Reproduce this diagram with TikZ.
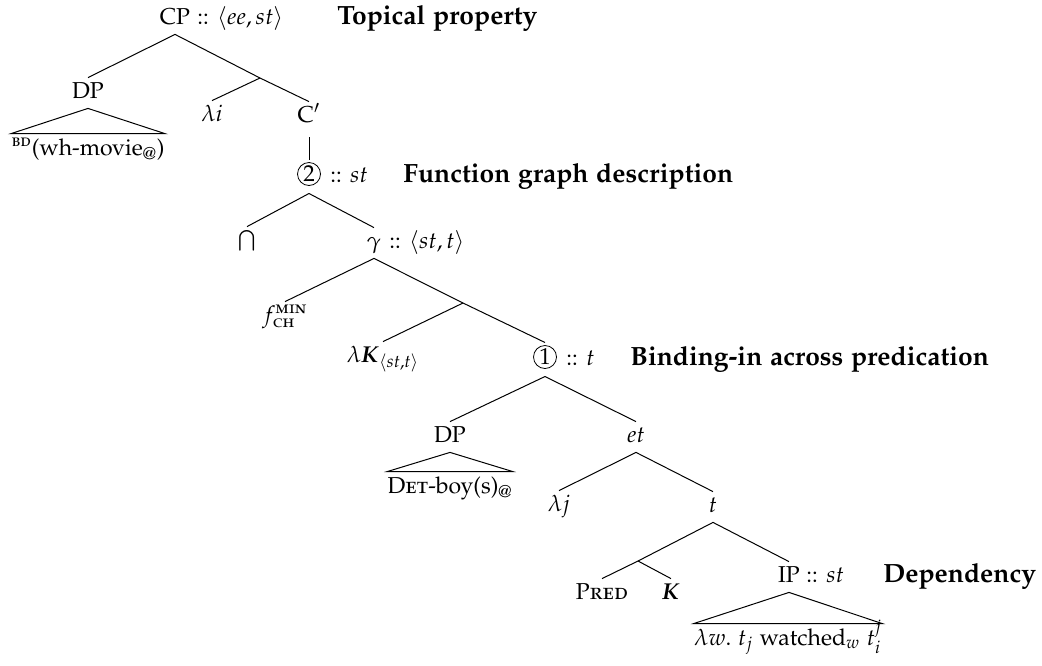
\documentclass[tikz,border=0pt]{standalone}
\usepackage[T1]{fontenc}
\usepackage[sc]{mathpazo}
\usepackage{amsmath}
\begin{document}
\begin{tikzpicture}[x=0.5pt,y=-0.5pt,
  every node/.style={font=\fontsize{11.5}{14}\selectfont},
  lbl/.style={inner sep=0pt, text height=10pt, text depth=5pt, anchor=base},
  leaf/.style={inner sep=0pt, text height=10.5pt, text depth=3pt, anchor=base},
  typ/.style={inner sep=0pt, anchor=base west},
  desc/.style={inner sep=0pt, anchor=base west, font=\fontsize{13.2}{16}\selectfont\bfseries},
  circ/.style={draw, circle, inner sep=0pt, minimum size=11.5pt, outer sep=1.5pt, line width=0.4pt},
  br/.style={line width=0.5pt}]
\useasboundingbox (0,0) rectangle (1042,665);
% --- nodes ---
\node[lbl] (cp) at (175,24) {CP};
\node[typ] (cpT) at (197,24) {:: $\langle ee, st\rangle$};
\node[desc] (cpD) at (337,24) {Topical property};
\node[lbl] (dp1) at (88,98) {DP};
\node[leaf] (bd) at (88,155) {\textsuperscript{\textsc{bd}}(wh-movie\textsubscript{@})};
\coordinate (x1) at (260,78);
\node[lbl] (li) at (212,121) {$\lambda i$};
\node[lbl] (cpr) at (309,122) {C$'$};
\node[circ] (c2) at (309,174) {2};
\node[typ] (c2T) at (330,182) {:: $st$};
\node[desc] (c2D) at (403,182) {Function graph description};
\node[lbl] (cap) at (247,247) {$\bigcap$};
\node[lbl] (gam) at (374,248) {$\gamma$};
\node[typ] (gamT) at (389,248) {:: $\langle st, t\rangle$};
\node[lbl] (fch) at (285,322) {$f^{\textsc{min}}_{\textsc{ch}}$};
\coordinate (y1) at (463,303);
\node[lbl] (lk) at (383,362) {$\lambda\boldsymbol{K}_{\langle st,t\rangle}$};
\node[circ] (c1) at (545,357) {1};
\node[typ] (c1T) at (566,365) {:: $t$};
\node[desc] (c1D) at (630,365) {Binding-in across predication};
\node[lbl] (dp2) at (450,442) {DP};
\node[leaf] (det) at (450,493) {\textsc{Det}-boy(s)\textsubscript{@}};
\node[lbl] (et) at (636,442) {$et$};
\node[lbl] (lj) at (559,511) {$\lambda j$};
\node[lbl] (tt) at (713,512) {$t$};
\coordinate (z1) at (638,561);
\node[lbl] (pred) at (602,599) {\textsc{Pred}};
\node[lbl] (kk) at (671,599) {$\boldsymbol{K}$};
\node[lbl] (ip) at (789,582) {IP};
\node[typ] (ipT) at (806,582) {:: $st$};
\node[desc] (ipD) at (883,582) {Dependency};
\node[leaf] (ipl) at (788,645) {$\lambda w.\ t_j$ watched$_w$ $t^j_i$};
% --- edges ---
\draw[br] (cp.south) -- (dp1.north);
\draw[br] (cp.south) -- (x1);
\draw[br] (x1) -- (li.north);
\draw[br] (x1) -- (cpr.north);
\draw[br] (dp1.south) -- (bd.north west) -- (bd.north east) -- cycle;
\draw[br] ([yshift=-2.5pt]cpr.south) -- (c2.north);
\draw[br] ([yshift=-2.5pt]c2.south) -- (cap.north);
\draw[br] ([yshift=-2.5pt]c2.south) -- (gam.north);
\draw[br] (gam.south) -- (fch.north);
\draw[br] (gam.south) -- (y1);
\draw[br] (y1) -- (lk.north);
\draw[br] (y1) -- (c1.north);
\draw[br] ([yshift=-2.5pt]c1.south) -- (dp2.north);
\draw[br] ([yshift=-2.5pt]c1.south) -- (et.north);
\draw[br] (dp2.south) -- (det.north west) -- (det.north east) -- cycle;
\draw[br] (et.south) -- (lj.north);
\draw[br] (et.south) -- (tt.north);
\draw[br] (tt.south) -- (z1);
\draw[br] (tt.south) -- (ip.north);
\draw[br] (z1) -- (pred.north);
\draw[br] (z1) -- (kk.north);
\draw[br] (ip.south) -- (ipl.north west) -- (ipl.north east) -- cycle;
\end{tikzpicture}
\end{document}
